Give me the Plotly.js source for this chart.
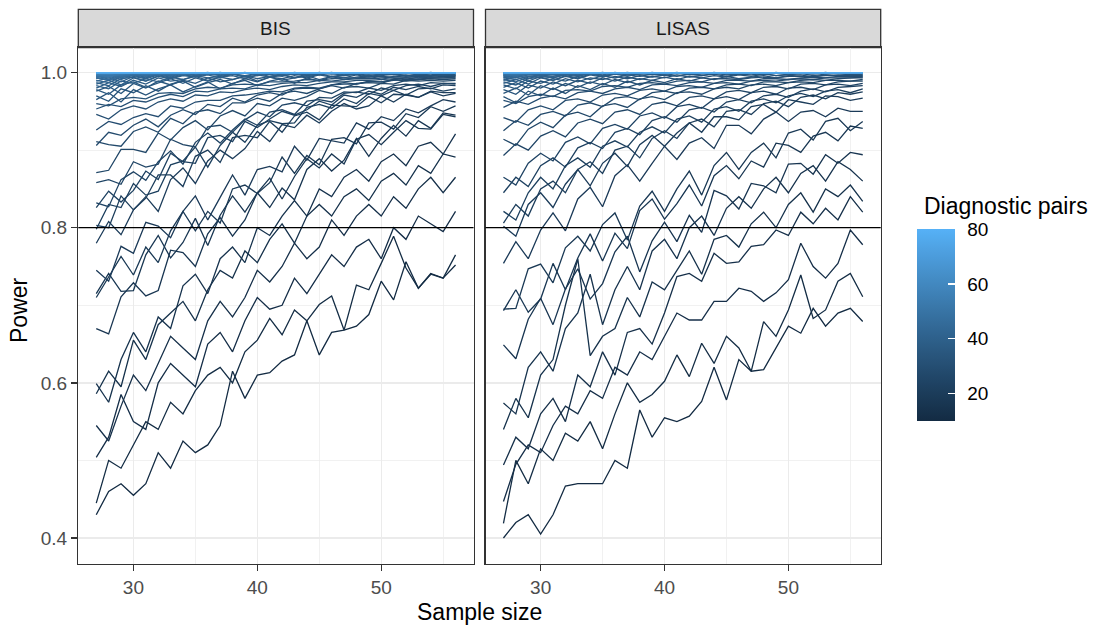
<!DOCTYPE html>
<html>
<head>
<meta charset="utf-8">
<script src="https://cdn.plot.ly/plotly-3.0.1.min.js"></script>
<style>
html,body{margin:0;padding:0;background:#ffffff;}
#chart{width:1097px;height:628px;}
</style>
</head>
<body>
<div id="chart"></div>
<script>
// ---------------- data ----------------
const sampleSize = [27,28,29,30,31,32,33,34,35,36,37,38,39,40,41,42,43,44,45,46,47,48,49,50,51,52,53,54,55,56];
const diagnosticPairs = [10,11,12,13,14,15,16,17,18,19,20,21,22,23,24,25,26,27,28,29,30,31,32,33,34,35,36,37,38,39,40,41,42,43,44,45,46,47,48,49,50,51,52,53,54,55,56,57,58,59,60,61,62,63,64,65,66,67,68,69,70,71,72,73,74,75,76,77,78,79,80];
const panelNames = ["BIS", "LISAS"];
const xTickVals = [30, 40, 50];
const xMinorVals = [35, 45, 55];
const yTickVals = [0.4, 0.6, 0.8, 1.0];
const yMinorVals = [0.5, 0.7, 0.9];
const pairTickVals = [20, 40, 60, 80];
const powerThreshold = 0.8;

// power in percent, one row per diagnostic-pairs value (10 ... 80), one column per sample size
const bisPower = [
[43,46,47,45.5,47,51,49,52.5,51,52,54.5,61.5,58,61,61.3,62.8,63.6,68,63.6,66.5,66.8,67.3,68.8,73.1,70.7,75.6,72.2,74.1,73.5,75.2],
[44.5,50,49,52,55,54,57.5,56,59,61,62,60,64,65.5,68.3,66.2,69.4,68,70.1,71.2,66.8,72.6,72,75.4,78.9,74.8,72.2,74,73.5,76.5],
[50.4,53,58.5,55,54,60,62.5,61,59.5,65,66.5,64,68,71,69.5,70,73.5,71.5,74,76.5,75,77.5,78.5,76,80,78.5,81.5,80.5,79.5,82.1],
[54.5,52.5,57,61,59,62.5,66,64.5,63,68,70.5,68.5,71,74.5,73,75,78,76,77.5,81,79,81.5,83,81.5,84,82.5,85,86.5,84.5,86.5],
[58.6,61.5,59.5,65.5,63,67.5,69,70.5,68,72,74.5,73.5,77,75.5,78.5,80.5,78,81.5,83,81.5,84,85,83.5,86,87,85.5,88,87,89.5,89.1],
[59.9,57.5,63,66.5,64,68.5,67,72.5,74,71.5,76,77.5,75.5,80,79,81.5,83.5,81.5,85,84,86.5,87.5,86,88.5,89.5,88,90.5,91,89.5,92.1],
[67,66.3,71.1,72.9,71.2,71.9,77.1,76.8,75,79.2,81.3,78.9,81,84.5,82.6,85.1,83.6,87.5,88.9,87.3,88.7,91.5,89.2,91.5,93.2,91.8,93.8,92.8,94.8,94.5],
[71.5,74.1,71.8,71.9,76.5,79,76.1,78.1,81.2,77.7,81.6,84.1,82,84.5,86.4,83.7,86.6,88.9,87.7,89.5,88.2,91.4,92,90.7,92.3,93.8,92.8,92.7,94.6,94.3],
[71,73.6,76.3,73.9,77.5,75.5,79.6,82.1,79.6,82.1,80.6,85,85.5,84.4,85.8,89.1,87,89.3,88.1,91.4,91.6,90.8,93.5,93.6,92.7,94.7,94.2,95.6,95,95.7],
[74.5,73.1,77.6,76.7,80.7,80.2,78.7,82.1,84.1,81,83.9,86.8,84.2,87.5,87.9,87.2,90.5,88.7,91.5,91.2,90.9,93.5,92.7,94.3,93.8,95.3,94.8,95.7,96.5,96.2],
[78,80.8,79.1,82.3,84,82.1,86.2,87.7,85.7,88.6,90,88.9,90.2,92.4,91.1,93.3,92.9,94.5,93.5,95,96,95.3,95.7,97,96.2,97.2,96.8,97.5,97,97.3],
[80.3,80,84.1,82.3,83.8,86.8,86.8,85.3,89.2,90,88.4,91.6,91.9,91.6,93.7,92.3,94.4,94.9,93.9,95.8,95.7,95.6,96.9,96.1,97.2,97.1,96.8,97.6,97.4,97.4],
[79.8,83,82.6,85.7,84.2,84.7,88.1,88.6,90.4,87.8,90.6,92.3,91,93.2,93.8,93.4,93.5,95.5,95.9,95.4,96.6,96,97.3,97,97.7,97.1,97.9,98,97.6,97.9],
[82.6,84.7,83.3,84.8,87.3,86.2,89.6,88.5,88.3,91.6,91.9,91.1,93.7,92.9,94,95,94.5,95.2,96.3,95.8,97.1,96.8,97.6,97.2,98.1,97.8,98.2,97.9,98.4,98.3],
[83.2,82.7,86.2,87.2,86.1,88.5,89.9,88.2,91,92.2,90.9,92.6,94,93.2,94.9,95.2,94.6,96.3,96.5,96.2,97.3,97.5,97.2,98,97.7,98.3,98.5,98.2,98.6,98.5],
[85.8,86.2,85.6,88.5,87.8,88.2,91.4,90.7,90.4,93,93.2,92.3,93.9,94.9,94.3,95.8,96.1,95.7,96.8,96.7,97.5,97.4,98,97.7,98.3,98.5,98.3,98.7,98.6,98.6],
[87.1,87.4,90.1,90.1,89.7,92.2,91.3,92.9,93.8,92.6,94.4,95.1,94.4,96,95.7,96.7,96.4,96.9,97.7,97.3,98.1,98.2,98,98.6,98.5,99,98.9,99,98.9,99],
[91.1,90.7,90.5,92.4,93,92.3,94.1,93.4,94.9,95.2,94.7,96.1,96.1,96.7,96.3,97.3,97.6,97.3,97.9,98.3,98,98.6,98.7,98.6,99.1,98.9,99.1,99.2,99.1,99.2],
[90.6,92.3,91.9,93.2,94,93,94.5,95.2,94.6,95.9,95.6,96.7,96.2,97.1,97.4,97.1,97.9,98,97.9,98.4,98.7,98.5,98.9,98.8,99.1,99.3,99.1,99.3,99.3,99.3],
[92.6,93.7,93.3,94.2,94.7,94.3,95.7,95.4,96.2,96.4,96.4,97,97.1,97.3,97.6,97.5,98,98.1,98,98.4,98.5,98.5,98.8,98.8,99,99.1,99.1,99.3,99.3,99.4],
[94.6,94,95.2,95.7,95.3,96.2,96.6,96.3,97.1,97,97.5,97.4,97.8,98,97.8,98.2,98.4,98.3,98.6,98.8,98.8,99,99,99.1,99.2,99.3,99.3,99.4,99.5,99.5],
[95.3,95.9,95.6,96.4,96.2,96.8,97.2,96.9,97.6,97.5,97.9,98,97.9,98.4,98.3,98.6,98.7,98.7,99,98.9,99.1,99.2,99.2,99.3,99.4,99.4,99.5,99.5,99.6,99.6],
[96,95.7,96.6,96.8,96.6,97.3,97.4,97.3,97.9,98.1,98,98.4,98.5,98.4,98.8,98.8,98.9,99.1,99,99.2,99.3,99.3,99.4,99.5,99.4,99.6,99.6,99.6,99.7,99.7],
[96.5,97.4,96.2,97.8,97.1,97.9,98.4,97.5,98.2,98.8,97.9,98.6,99,98.3,98.9,99.2,98.6,99.3,98.9,99.5,99.1,99.4,99.6,99.1,99.5,99.7,99.3,99.6,99.8,99.6],
[97,96.3,97.9,97.4,98.3,97.6,98.5,98.9,98.1,98.7,99.1,98.5,99.2,98.8,99.4,99,99.3,99.6,99.1,99.5,99.3,99.7,99.4,99.6,99.8,99.5,99.7,99.9,99.6,99.8],
[97.6,98.2,97.3,98.6,98,98.9,98.4,99,98.6,99.3,98.8,99.1,99.5,98.9,99.4,99.2,99.6,99.3,99.7,99.4,99.6,99.8,99.5,99.7,99.9,99.6,99.8,99.7,99.9,99.8],
[97.8,97.2,98.4,98.8,98.1,98.7,99.2,98.6,99.3,98.9,99.4,99.1,99.6,99.2,99.5,99.7,99.3,99.6,99.8,99.5,99.7,99.9,99.6,99.8,99.7,99.9,99.8,100,99.8,99.9],
[98,98.7,98.2,99,98.5,99.3,98.9,99.1,99.5,99,99.4,99.6,99.2,99.7,99.4,99.6,99.8,99.5,99.7,99.9,99.6,99.8,99.9,99.7,99.9,100,99.8,99.9,100,99.9],
[98.3,97.9,98.9,98.6,99.2,98.8,99.4,99.1,99.6,99.3,99.5,99.8,99.4,99.6,99.8,99.5,99.9,99.7,99.8,100,99.7,99.9,99.8,100,99.9,100,99.9,100,99.9,100],
[98.5,99,98.4,99.3,98.9,99.5,99.2,99.6,99.4,99.7,99.3,99.8,99.6,99.9,99.5,99.8,99.9,99.7,100,99.8,99.9,100,99.8,100,99.9,100,100,99.9,100,100],
[98.7,98.3,99.2,99.4,98.9,99.6,99.3,99.7,99.5,99.8,99.6,99.9,99.5,99.8,99.9,99.7,100,99.8,99.9,100,99.9,100,100,99.9,100,100,100,99.9,100,100],
[98.9,99.3,98.8,99.5,99.2,99.7,99.4,99.8,99.6,99.9,99.7,99.8,100,99.7,99.9,100,99.8,100,99.9,100,100,99.9,100,100,100,100,100,100,100,100],
[99,98.7,99.4,99.6,99.3,99.8,99.5,99.9,99.7,99.8,100,99.8,99.9,100,99.8,100,99.9,100,100,99.9,100,100,100,100,100,100,100,100,100,100],
[99.2,99.5,99.1,99.7,99.4,99.8,99.6,99.9,99.8,100,99.7,99.9,100,99.9,100,100,99.9,100,100,100,100,100,100,100,100,100,100,100,100,100],
[99.3,99,99.6,99.8,99.5,99.9,99.7,99.9,100,99.8,99.9,100,99.9,100,100,100,100,99.9,100,100,100,100,100,100,100,100,100,100,100,100],
[99.4,99.7,99.3,99.8,99.6,99.9,99.8,100,99.9,99.9,100,99.9,100,100,100,100,100,100,100,100,100,100,100,100,100,100,100,100,100,100],
[99.3,99.1,99.5,99.7,99.6,99.8,99.7,99.8,99.9,99.8,99.9,99.9,100,99.9,100,100,99.9,100,100,100,100,100,100,100,100,100,100,100,100,100],
[99.4,99.6,99.5,99.7,99.8,99.7,99.9,99.8,99.9,99.9,100,99.9,100,100,99.9,100,100,100,100,100,100,100,100,100,100,100,100,100,100,100],
[99.5,99.3,99.7,99.8,99.7,99.9,99.8,99.9,99.9,100,99.9,100,100,100,100,99.9,100,100,100,100,100,100,100,100,100,100,100,100,100,100],
[99.5,99.7,99.6,99.8,99.9,99.8,99.9,100,99.9,100,100,100,99.9,100,100,100,100,100,100,100,100,100,100,100,100,100,100,100,100,100],
[99.6,99.5,99.8,99.9,99.8,99.9,100,99.9,100,100,100,99.9,100,100,100,100,100,100,100,100,100,100,100,100,100,100,100,100,100,100],
[99.6,99.8,99.7,99.9,99.8,99.9,100,99.9,100,100,99.9,100,100,100,100,100,100,100,100,100,100,100,100,100,100,100,100,100,100,100],
[99.7,99.5,99.8,99.9,100,99.9,100,100,99.9,100,100,100,100,100,100,100,100,100,100,100,100,100,100,100,100,100,100,100,100,100],
[99.7,99.9,99.8,100,99.9,100,99.9,100,100,100,100,100,100,99.9,100,100,100,100,100,100,100,100,100,100,100,100,100,100,100,100],
[99.8,99.7,99.9,100,99.9,100,100,100,100,99.9,100,100,100,100,100,100,100,100,100,100,100,100,100,100,100,100,100,100,100,100],
[99.8,99.9,100,99.9,100,100,100,100,100,100,100,100,100,100,100,100,100,100,100,100,100,100,100,100,100,100,100,100,100,100],
[99.9,99.8,100,100,99.9,100,100,100,100,100,100,100,100,100,100,100,100,100,100,100,100,100,100,100,100,100,100,100,100,100],
[99.9,100,99.9,100,100,100,100,100,100,100,100,100,100,100,100,100,100,100,100,100,100,100,100,100,100,100,100,100,100,100],
[99.9,100,100,100,100,100,100,99.9,100,100,100,100,100,100,100,100,100,100,100,100,100,100,100,100,100,100,100,100,100,100],
[100,99.9,100,100,100,100,100,100,100,100,100,100,100,100,100,100,100,100,100,100,100,100,100,100,100,100,100,100,100,100],
[99.9,100,100,100,100,100,100,100,100,100,100,100,100,100,100,100,100,100,100,100,100,100,100,100,100,100,100,100,100,100],
[100,100,99.9,100,100,100,100,100,100,100,100,100,100,100,100,100,100,100,100,100,100,100,100,100,100,100,100,100,100,100],
[100,100,100,100,99.9,100,100,100,100,100,100,100,100,100,100,100,100,100,100,100,100,100,100,100,100,100,100,100,100,100],
[100,99.9,100,100,100,100,100,100,100,100,100,100,100,100,100,100,100,100,100,100,100,100,100,100,100,100,100,100,100,100],
[100,100,100,100,100,100,100,100,100,100,100,100,100,100,100,100,100,100,100,100,100,100,100,100,100,100,100,100,100,100],
[100,100,100,99.9,100,100,100,100,100,100,100,100,100,100,100,100,100,100,100,100,100,100,100,100,100,100,100,100,100,100],
[100,100,100,100,100,100,100,100,100,100,100,100,100,100,100,100,100,100,100,100,100,100,100,100,100,100,100,100,100,100],
[100,100,100,100,100,100,100,100,100,100,100,100,100,100,100,100,100,100,100,100,100,100,100,100,100,100,100,100,100,100],
[100,100,100,100,100,100,100,100,100,100,100,100,100,100,100,100,100,100,100,100,100,100,100,100,100,100,100,100,100,100],
[100,100,100,100,100,100,100,100,100,100,100,100,100,100,100,100,100,100,100,100,100,100,100,100,100,100,100,100,100,100],
[100,100,100,100,100,100,100,100,100,100,100,100,100,100,100,100,100,100,100,100,100,100,100,100,100,100,100,100,100,100],
[100,100,100,100,100,100,100,100,100,100,100,100,100,100,100,100,100,100,100,100,100,100,100,100,100,100,100,100,100,100],
[100,100,100,100,100,100,100,100,100,100,100,100,100,100,100,100,100,100,100,100,100,100,100,100,100,100,100,100,100,100],
[100,100,100,100,100,100,100,100,100,100,100,100,100,100,100,100,100,100,100,100,100,100,100,100,100,100,100,100,100,100],
[100,100,100,100,100,100,100,100,100,100,100,100,100,100,100,100,100,100,100,100,100,100,100,100,100,100,100,100,100,100],
[100,100,100,100,100,100,100,100,100,100,100,100,100,100,100,100,100,100,100,100,100,100,100,100,100,100,100,100,100,100],
[100,100,100,100,100,100,100,100,100,100,100,100,100,100,100,100,100,100,100,100,100,100,100,100,100,100,100,100,100,100],
[100,100,100,100,100,100,100,100,100,100,100,100,100,100,100,100,100,100,100,100,100,100,100,100,100,100,100,100,100,100],
[100,100,100,100,100,100,100,100,100,100,100,100,100,100,100,100,100,100,100,100,100,100,100,100,100,100,100,100,100,100]
];

const lisasPower = [
[40,42,43,40.5,43,46.7,47,47,47,50,49,56.5,53,55.5,55,55.7,57.6,62,57.8,63,61.5,61.7,64.5,67.3,66.4,69.6,67.3,69,69.6,67.9],
[41.9,50,47,51.5,50,53.5,52.5,55,51.5,56,60,57.5,58.5,60.2,63.6,60.8,65.1,62.5,66,64.5,61.5,67.9,66,69.4,73.9,68.3,69.4,73.1,74.1,71.1],
[44.7,49.5,52,51,54.5,57,56,59,58,62,61,64,63,66,69,68.1,68.1,70.5,70.5,72.2,71.8,70.5,71.6,73.3,78,75,73.5,75.4,79.7,77.8],
[49.4,53,51.5,56,58,55,61,59.5,64,61,66.5,67,65,69,73.7,74.1,73.1,76.7,75.4,75.6,77.6,77.8,79.7,79,82,80.5,82.5,81,84,82],
[54,58,55.5,61,63,70,76,63.5,66,67,71,68.5,73,72,74.5,77,74,78.5,79,77.5,80.5,82,80,83,84.5,82,85,84,85.5,83.4],
[57.4,56,62,64,61.5,67,69,74,67.5,72,75,72,77,78.5,76,80,81.5,79,82.5,84,82.5,85,86.5,84.5,87,88,86,88.5,87.5,86],
[64.9,63.1,68.2,70.9,67.5,72.1,74.7,70.8,72.8,76.9,78.9,74.3,78.3,80.7,78.2,81.6,79.4,84.8,84.1,82.4,85.7,85.4,84.5,88.2,88.3,86.9,89.4,88.3,89.7,89.4],
[69.3,72,69.1,70.8,75.4,72,76.1,79.2,75.7,79.3,77.3,82.2,83.7,81.1,83.1,85.5,82.8,86.7,88,86.3,88.6,87.8,90.9,90.6,89.7,91.8,92.3,91.2,93.1,92.8],
[69.5,69.6,74.7,75.3,72.9,77.4,78.9,77,80.4,81.9,78.4,82.8,84.7,82.1,85,87.3,84.2,88,89.7,87.5,89.7,90.9,89,92.2,92.7,91.3,93.7,94.1,92.5,93.7],
[75.4,78.2,76,79.7,81.9,79.6,83.7,85.2,82.7,86.7,88.1,86,88.3,90.5,88.8,90.9,91.6,90.2,93.2,93.2,92.1,94,94.9,93.7,94.9,95.1,94.3,95.4,95,95],
[80.2,78.9,83,84.5,82.6,85.6,87.5,85.4,88.3,89.6,87.9,90.7,91.9,90.5,92.2,93.5,92.3,94.3,94.3,93.9,95.6,95.9,94.9,96.5,96.2,95.9,97,96.9,96.4,96.7],
[80.6,83,81.5,85,86,84.5,87.5,88.5,87,90,90.5,89,91.5,92.5,91.5,93.5,94,93,95,95.2,94.6,96,96.3,95.6,96.8,97.1,96.6,97.4,97.2,97.5],
[82.1,81,84.5,86.5,85,88,89,87.8,90.5,91.2,90.4,92.3,93,92.2,94,94.4,93.6,95.3,95.6,95,96.3,96.6,96.1,97,97.3,96.9,97.6,97.8,97.4,97.9],
[84.5,86.5,85.3,88,89,87.8,90.3,91,90.2,92.3,92.8,92,93.8,94.3,93.6,95.2,95.5,94.9,96.2,96.5,96.1,97,97.2,96.8,97.6,97.9,97.5,98.1,98.2,98.3],
[86.5,85.5,88.3,89.6,88.6,91,91.7,90.8,92.8,93.3,92.7,94.4,94.8,94.1,95.6,95.9,95.4,96.6,96.9,96.5,97.4,97.6,97.2,98,98.1,97.8,98.4,98.5,98.3,98.6],
[89.3,90.8,90,91.8,92.5,91.7,93.5,94,93.4,94.9,95.2,94.6,95.9,96.2,95.7,96.8,97,96.6,97.5,97.7,97.4,98.1,98.2,97.9,98.5,98.6,98.4,98.8,98.9,98.9],
[91.4,90.6,92.7,93.6,92.9,94.5,94.9,94.3,95.7,96,95.5,96.6,96.9,96.5,97.4,97.5,97.2,97.9,98.1,97.9,98.4,98.5,98.3,98.7,98.8,98.7,99,99,98.9,99.1],
[92.5,93.8,93.2,94.6,95,94.4,95.8,96.1,95.6,96.7,96.9,96.5,97.4,97.6,97.3,98,98.1,97.9,98.4,98.5,98.3,98.8,98.8,98.7,99,99.1,99,99.2,99.3,99.3],
[94.2,93.6,95.2,95.7,95.2,96.4,96.6,96.2,97.1,97.3,97,97.7,97.9,97.6,98.2,98.3,98.1,98.6,98.7,98.5,98.9,99,98.9,99.1,99.2,99.1,99.3,99.3,99.3,99.4],
[95.5,96.3,95.9,96.7,97,96.6,97.4,97.6,97.3,97.9,98.1,97.8,98.4,98.5,98.3,98.7,98.8,98.6,99,99,98.9,99.2,99.2,99.1,99.3,99.4,99.3,99.5,99.5,99.5],
[96.4,96,96.9,97.2,96.9,97.7,97.8,97.6,98.2,98.3,98.1,98.6,98.7,98.5,98.9,99,98.8,99.2,99.2,99.1,99.3,99.4,99.3,99.5,99.5,99.5,99.6,99.6,99.6,99.6],
[96.9,96.1,97.6,97,98,97.3,98.3,97.8,98.6,98.1,98.9,98.4,99,98.7,99.2,98.9,99.3,99.1,99.5,99.2,99.4,99.6,99.3,99.6,99.7,99.4,99.7,99.6,99.8,99.7],
[97.3,98,97.1,98.3,97.8,98.6,98.1,98.8,98.4,99.1,98.7,99.2,99,99.4,99.1,99.5,99.3,99.6,99.4,99.7,99.5,99.8,99.6,99.7,99.9,99.6,99.8,99.9,99.7,99.8],
[97.8,97.2,98.4,98,98.8,98.3,99,98.6,99.3,98.9,99.4,99.1,99.5,99.3,99.7,99.4,99.6,99.8,99.5,99.8,99.7,99.9,99.6,99.8,99.9,99.8,100,99.8,99.9,99.9],
[98.1,98.7,98,98.9,98.5,99.2,98.8,99.3,99.1,99.5,99.2,99.6,99.4,99.7,99.5,99.8,99.6,99.9,99.7,99.8,99.9,99.7,100,99.8,99.9,100,99.9,100,99.9,100],
[98.4,97.9,98.9,98.6,99.2,98.9,99.5,99.1,99.6,99.3,99.7,99.5,99.8,99.6,99.9,99.7,99.8,100,99.8,99.9,100,99.8,100,99.9,100,100,99.9,100,100,100],
[98.6,99.1,98.5,99.3,99,99.5,99.2,99.7,99.4,99.8,99.5,99.9,99.7,99.8,100,99.8,99.9,100,99.9,100,99.9,100,100,100,100,99.9,100,100,100,100],
[98.8,98.4,99.2,99.4,99,99.6,99.3,99.8,99.5,99.9,99.7,99.8,100,99.8,99.9,100,99.9,100,100,99.9,100,100,100,100,100,100,100,100,100,100],
[99,99.4,98.9,99.5,99.3,99.7,99.5,99.9,99.6,99.8,100,99.8,99.9,100,99.9,100,100,100,99.9,100,100,100,100,100,100,100,100,100,100,100],
[99.1,98.8,99.4,99.6,99.3,99.8,99.6,99.9,99.7,100,99.8,99.9,100,99.9,100,100,100,100,100,100,100,100,100,100,100,100,100,100,100,100],
[99.3,99.6,99.2,99.7,99.5,99.9,99.7,99.8,100,99.8,99.9,100,100,99.9,100,100,100,100,100,100,100,100,100,100,100,100,100,100,100,100],
[99.3,99.1,99.5,99.6,99.5,99.8,99.7,99.8,99.9,99.8,99.9,99.9,100,99.9,100,100,100,100,100,100,100,100,100,100,100,100,100,100,100,100],
[99.4,99.6,99.5,99.7,99.8,99.7,99.9,99.8,99.9,99.9,100,99.9,100,100,100,100,100,100,100,100,100,100,100,100,100,100,100,100,100,100],
[99.5,99.3,99.7,99.8,99.7,99.9,99.8,99.9,100,99.9,100,100,100,100,100,100,100,100,100,100,100,100,100,100,100,100,100,100,100,100],
[99.6,99.8,99.7,99.9,99.8,99.9,100,99.9,100,100,100,100,100,100,100,100,100,100,100,100,100,100,100,100,100,100,100,100,100,100],
[99.6,99.5,99.8,99.9,99.8,100,99.9,100,100,100,100,100,100,100,100,100,100,100,100,100,100,100,100,100,100,100,100,100,100,100],
[99.7,99.9,99.8,100,99.9,100,100,100,99.9,100,100,100,100,100,100,100,100,100,100,100,100,100,100,100,100,100,100,100,100,100],
[99.7,99.6,99.9,99.9,100,100,99.9,100,100,100,100,100,100,100,100,100,100,100,100,100,100,100,100,100,100,100,100,100,100,100],
[99.8,99.9,99.8,100,100,99.9,100,100,100,100,100,100,100,100,100,100,100,100,100,100,100,100,100,100,100,100,100,100,100,100],
[99.8,99.7,99.9,100,99.9,100,100,100,100,100,100,100,100,100,100,100,100,100,100,100,100,100,100,100,100,100,100,100,100,100],
[99.9,99.9,100,99.9,100,100,100,100,100,100,100,100,100,100,100,100,100,100,100,100,100,100,100,100,100,100,100,100,100,100],
[99.9,99.8,100,100,100,100,100,100,100,100,100,100,100,100,100,100,100,100,100,100,100,100,100,100,100,100,100,100,100,100],
[99.9,100,99.9,100,100,100,100,100,100,100,100,100,100,100,100,100,100,100,100,100,100,100,100,100,100,100,100,100,100,100],
[100,99.9,100,100,100,100,100,100,100,100,100,100,100,100,100,100,100,100,100,100,100,100,100,100,100,100,100,100,100,100],
[99.9,100,100,100,100,99.9,100,100,100,100,100,100,100,100,100,100,100,100,100,100,100,100,100,100,100,100,100,100,100,100],
[100,100,99.9,100,100,100,100,100,100,100,100,100,100,100,100,100,100,100,100,100,100,100,100,100,100,100,100,100,100,100],
[100,100,100,100,100,100,100,100,100,100,100,100,100,100,100,100,100,100,100,100,100,100,100,100,100,100,100,100,100,100],
[100,99.9,100,100,100,100,100,100,100,100,100,100,100,100,100,100,100,100,100,100,100,100,100,100,100,100,100,100,100,100],
[100,100,100,100,100,100,100,100,100,100,100,100,100,100,100,100,100,100,100,100,100,100,100,100,100,100,100,100,100,100],
[100,100,100,100,100,100,100,100,100,100,100,100,100,100,100,100,100,100,100,100,100,100,100,100,100,100,100,100,100,100],
[100,100,100,100,100,100,100,100,100,100,100,100,100,100,100,100,100,100,100,100,100,100,100,100,100,100,100,100,100,100],
[100,100,100,100,100,100,100,100,100,100,100,100,100,100,100,100,100,100,100,100,100,100,100,100,100,100,100,100,100,100],
[100,100,100,100,100,100,100,100,100,100,100,100,100,100,100,100,100,100,100,100,100,100,100,100,100,100,100,100,100,100],
[100,100,100,100,100,100,100,100,100,100,100,100,100,100,100,100,100,100,100,100,100,100,100,100,100,100,100,100,100,100],
[100,100,100,100,100,100,100,100,100,100,100,100,100,100,100,100,100,100,100,100,100,100,100,100,100,100,100,100,100,100],
[100,100,100,100,100,100,100,100,100,100,100,100,100,100,100,100,100,100,100,100,100,100,100,100,100,100,100,100,100,100],
[100,100,100,100,100,100,100,100,100,100,100,100,100,100,100,100,100,100,100,100,100,100,100,100,100,100,100,100,100,100],
[100,100,100,100,100,100,100,100,100,100,100,100,100,100,100,100,100,100,100,100,100,100,100,100,100,100,100,100,100,100],
[100,100,100,100,100,100,100,100,100,100,100,100,100,100,100,100,100,100,100,100,100,100,100,100,100,100,100,100,100,100],
[100,100,100,100,100,100,100,100,100,100,100,100,100,100,100,100,100,100,100,100,100,100,100,100,100,100,100,100,100,100],
[100,100,100,100,100,100,100,100,100,100,100,100,100,100,100,100,100,100,100,100,100,100,100,100,100,100,100,100,100,100],
[100,100,100,100,100,100,100,100,100,100,100,100,100,100,100,100,100,100,100,100,100,100,100,100,100,100,100,100,100,100],
[100,100,100,100,100,100,100,100,100,100,100,100,100,100,100,100,100,100,100,100,100,100,100,100,100,100,100,100,100,100],
[100,100,100,100,100,100,100,100,100,100,100,100,100,100,100,100,100,100,100,100,100,100,100,100,100,100,100,100,100,100],
[100,100,100,100,100,100,100,100,100,100,100,100,100,100,100,100,100,100,100,100,100,100,100,100,100,100,100,100,100,100],
[100,100,100,100,100,100,100,100,100,100,100,100,100,100,100,100,100,100,100,100,100,100,100,100,100,100,100,100,100,100],
[100,100,100,100,100,100,100,100,100,100,100,100,100,100,100,100,100,100,100,100,100,100,100,100,100,100,100,100,100,100],
[100,100,100,100,100,100,100,100,100,100,100,100,100,100,100,100,100,100,100,100,100,100,100,100,100,100,100,100,100,100]
];

// ---------------- colour scale (ggplot-like Lab gradient) ----------------
const lowColor = "#132B43", highColor = "#56B1F7";
function hexToRgb(h){ return [1,3,5].map(i => parseInt(h.substr(i,2),16)); }
function toLin(c){ c/=255; return c <= 0.04045 ? c/12.92 : Math.pow((c+0.055)/1.055, 2.4); }
function toSrgb(c){ c = c <= 0.0031308 ? 12.92*c : 1.055*Math.pow(c,1/2.4)-0.055; return Math.max(0, Math.min(255, Math.round(c*255))); }
function rgbToLab(rgb){
  const [r,g,b] = rgb.map(toLin);
  const X = (0.4124*r+0.3576*g+0.1805*b)/0.95047, Y = 0.2126*r+0.7152*g+0.0722*b, Z = (0.0193*r+0.1192*g+0.9505*b)/1.08883;
  const f = t => t > 0.008856 ? Math.cbrt(t) : 7.787*t + 16/116;
  return [116*f(Y)-16, 500*(f(X)-f(Y)), 200*(f(Y)-f(Z))];
}
function labToRgb([L,a,b]){
  const fy = (L+16)/116, fx = fy + a/500, fz = fy - b/200;
  const inv = t => t > 0.206893 ? t*t*t : (t-16/116)/7.787;
  const X = inv(fx)*0.95047, Y = inv(fy), Z = inv(fz)*1.08883;
  return [3.2406*X-1.5372*Y-0.4986*Z, -0.9689*X+1.8758*Y+0.0415*Z, 0.0557*X-0.2040*Y+1.0570*Z].map(toSrgb);
}
const labLow = rgbToLab(hexToRgb(lowColor)), labHigh = rgbToLab(hexToRgb(highColor));
function gradColor(t){
  const c = labToRgb(labLow.map((v,i) => v + (labHigh[i]-v)*t));
  return "rgb(" + c.join(",") + ")";
}
const pMin = diagnosticPairs[0], pMax = diagnosticPairs[diagnosticPairs.length-1];
const pairColor = p => gradColor((p - pMin)/(pMax - pMin));
const colorscale = [];
for (let i = 0; i <= 20; i++) colorscale.push([i/20, gradColor(i/20)]);

// ---------------- geometry ----------------
const W = 1097, H = 628;
const fx = p => p / W;
const fy = p => 1 - p / H;
const panelX = [[78.3, 473.5], [485.5, 880.7]];
const panelTop = 47.7, panelBottom = 564, stripTop = 9.3;
const FONT = "Liberation Sans, Arial, Helvetica, sans-serif";

// ---------------- traces ----------------
const traces = [];
const panelData = [bisPower, lisasPower];
panelData.forEach((rows, k) => {
  rows.forEach((row, j) => {
    traces.push({
      type: "scatter", mode: "lines",
      x: sampleSize, y: row.map(v => v/100),
      xaxis: k ? "x2" : "x", yaxis: k ? "y2" : "y",
      line: {color: pairColor(diagnosticPairs[j]), width: 1.3},
      hoverinfo: "skip", showlegend: false
    });
  });
});
function colorbarTrace(withLabels){
  return {
    type: "scatter", mode: "markers", x: [0, 0], y: [0, 0], xaxis: "x", yaxis: "y",
    hoverinfo: "skip", showlegend: false,
    marker: {
      size: 1, color: [pMin, pMax], cmin: pMin, cmax: pMax, colorscale: colorscale, showscale: true,
      colorbar: {
        x: fx(916.7), xanchor: "left", y: fy(325), yanchor: "middle",
        len: 192, lenmode: "pixels", thickness: 38.3, thicknessmode: "pixels",
        outlinewidth: 0, xpad: 0, ypad: 0,
        tickmode: "array", tickvals: pairTickVals, ticktext: pairTickVals.map(String),
        showticklabels: withLabels,
        ticks: withLabels ? "outside" : "inside", ticklen: withLabels ? 9 : 7, tickwidth: 1.3,
        tickcolor: withLabels ? "rgba(255,255,255,0)" : "#FFFFFF",
        tickfont: {family: FONT, size: 19, color: "#000000"},
        title: {text: ""}
      }
    }
  };
}
traces.push(colorbarTrace(true));
traces.push(colorbarTrace(false));

// ---------------- layout ----------------
function xAxis(k){
  return {
    domain: [fx(panelX[k][0]), fx(panelX[k][1])], anchor: k ? "y2" : "y",
    range: [25.55, 57.45], tickmode: "array", tickvals: xTickVals, ticktext: xTickVals.map(String),
    ticks: "outside", ticklen: 6, tickwidth: 1.3, tickcolor: "#333333",
    tickfont: {family: FONT, size: 19, color: "#4D4D4D"},
    showgrid: true, gridcolor: "#EBEBEB", gridwidth: 1.3,
    minor: {tickmode: "array", tickvals: xMinorVals, showgrid: true, gridcolor: "#EBEBEB", gridwidth: 0.7, ticks: ""},
    showline: true, linecolor: "#333333", linewidth: 1.3, mirror: true, zeroline: false, fixedrange: true
  };
}
function yAxis(k){
  return {
    domain: [fy(panelBottom), fy(panelTop)], anchor: k ? "x2" : "x",
    range: [0.3665, 1.032], tickmode: "array", tickvals: yTickVals, ticktext: yTickVals.map(v => v.toFixed(1)),
    ticks: k ? "" : "outside", ticklen: 6, tickwidth: 1.3, tickcolor: "#333333", showticklabels: !k,
    tickfont: {family: FONT, size: 19, color: "#4D4D4D"},
    showgrid: true, gridcolor: "#EBEBEB", gridwidth: 1.3,
    minor: {tickmode: "array", tickvals: yMinorVals, showgrid: true, gridcolor: "#EBEBEB", gridwidth: 0.7, ticks: ""},
    showline: true, linecolor: "#333333", linewidth: 1.3, mirror: true, zeroline: false, fixedrange: true
  };
}

const shapes = [], annotations = [];
panelNames.forEach((name, k) => {
  shapes.push({type: "rect", xref: "paper", yref: "paper",
    x0: fx(panelX[k][0]), x1: fx(panelX[k][1]), y0: fy(panelTop), y1: fy(stripTop),
    fillcolor: "#D9D9D9", line: {color: "#333333", width: 1.3}, layer: "below"});
  shapes.push({type: "line", xref: (k ? "x2" : "x") + " domain", yref: k ? "y2" : "y",
    x0: 0, x1: 1, y0: powerThreshold, y1: powerThreshold, line: {color: "#000000", width: 1.3}});
  annotations.push({text: name, xref: "paper", yref: "paper",
    x: fx((panelX[k][0] + panelX[k][1]) / 2), y: fy((panelTop + stripTop) / 2),
    xanchor: "center", yanchor: "middle", showarrow: false,
    font: {family: FONT, size: 19, color: "#1A1A1A"}});
});
annotations.push({text: "Sample size", xref: "paper", yref: "paper",
  x: fx((panelX[0][0] + panelX[1][1]) / 2), y: fy(612), xanchor: "center", yanchor: "middle",
  showarrow: false, font: {family: FONT, size: 23, color: "#000000"}});
annotations.push({text: "Power", xref: "paper", yref: "paper", textangle: -90,
  x: fx(19), y: fy(310), xanchor: "center", yanchor: "middle",
  showarrow: false, font: {family: FONT, size: 23, color: "#000000"}});
annotations.push({text: "Diagnostic pairs", xref: "paper", yref: "paper",
  x: fx(922), y: fy(206), xanchor: "left", yanchor: "middle",
  showarrow: false, font: {family: FONT, size: 23, color: "#000000"}});

const layout = {
  width: W, height: H, margin: {l: 0, r: 0, t: 0, b: 0},
  paper_bgcolor: "#FFFFFF", plot_bgcolor: "#FFFFFF", showlegend: false,
  font: {family: FONT},
  xaxis: xAxis(0), xaxis2: xAxis(1), yaxis: yAxis(0), yaxis2: yAxis(1),
  shapes: shapes, annotations: annotations
};

Plotly.newPlot("chart", traces, layout, {displayModeBar: false, staticPlot: true});
</script>
</body>
</html>
